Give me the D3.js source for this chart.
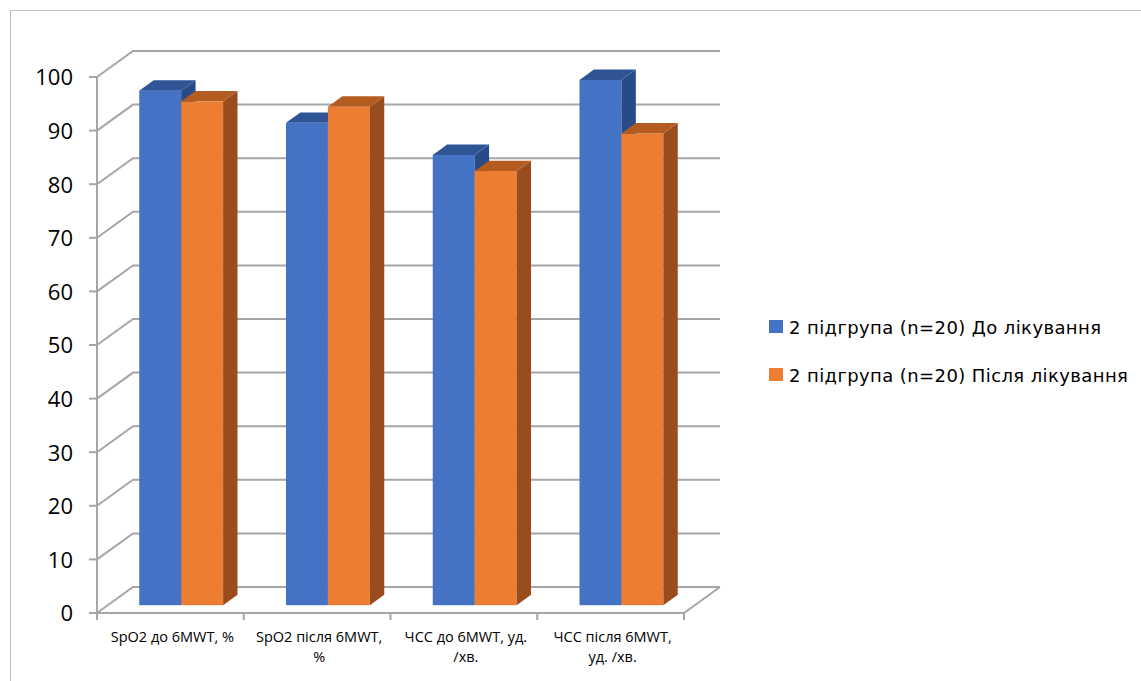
<!DOCTYPE html>
<html><head><meta charset="utf-8">
<script src="https://cdn.jsdelivr.net/npm/d3@7"></script>
<style>
html,body{margin:0;padding:0;background:#fff;}
svg{display:block;}
text{font-family:"Open Sans","Noto Sans",sans-serif;fill:#000;}
</style></head>
<body>
<svg id="chart" width="1141" height="681"></svg>
<script>
const categories = [
  ["SpO2 до 6MWT, %"],
  ["SpO2 після 6MWT,", "%"],
  ["ЧСС до 6MWT, уд.", "/хв."],
  ["ЧСС після 6MWT,", "уд. /хв."]
];
const seriesNames = ["2 підгрупа (n=20) До лікування", "2 підгрупа (n=20) Після лікування"];
const beforeValues = [96, 90, 84, 98];
const afterValues = [94, 93, 81, 88];
const yTicks = [0, 10, 20, 30, 40, 50, 60, 70, 80, 90, 100];

const colors = [
  {front:"#4472C4", top:"#2F5597", side:"#284A86"},
  {front:"#ED7D31", top:"#B45C20", side:"#9A4D1C"}
];

const svg = d3.select("#chart");
// chart frame
svg.append("path").attr("d","M10.5,681 L10.5,10.5 L1141,10.5")
  .attr("fill","none").attr("stroke","#bfbfbf").attr("stroke-width",1);

const y = d3.scaleLinear().domain([0,100]).range([613,77]);
const x0 = d3.scaleBand().domain(d3.range(categories.length)).range([97,684]).padding(0);
const x1 = d3.scaleBand().domain([0,1]).range([0,x0.bandwidth()]).paddingInner(0).paddingOuter(0.75);
const depth = {dx:36, dy:-26};
const z0 = 0.3, z1 = 0.7;
const P = (px,py,z)=>[px+depth.dx*z, py+depth.dy*z];

const grid = svg.append("g").attr("fill","none").attr("stroke","#a6a6a6").attr("stroke-width",2);
const xL = x0.range()[0], xR = x0.range()[1];
yTicks.forEach(t=>{
  const f = P(xL,y(t),0), b = P(xL,y(t),1), br = P(xR,y(t),1);
  grid.append("path").attr("d",`M${f[0]},${f[1]} L${b[0]},${b[1]} L${br[0]},${br[1]}`);
});
// floor
const f0 = P(xL,y(0),0), f1 = P(xR,y(0),0), f2 = P(xR,y(0),1);
grid.append("path").attr("d",`M${f0[0]},${f0[1]} L${f1[0]},${f1[1]} L${f2[0]},${f2[1]}`);
// vertical axis
grid.append("line").attr("x1",xL).attr("x2",xL).attr("y1",y(100)).attr("y2",y(0));
// y ticks
yTicks.forEach(t=>{
  grid.append("line").attr("x1",xL-8).attr("x2",xL).attr("y1",y(t)).attr("y2",y(t));
});
// category ticks
d3.range(categories.length+1).forEach(i=>{
  const xx = i<categories.length ? x0(i) : xR;
  grid.append("line").attr("x1",xx).attr("x2",xx).attr("y1",y(0)).attr("y2",y(0)+7);
});

// y labels
svg.append("g").selectAll("text").data(yTicks).join("text")
  .attr("x",73).attr("y",d=>y(d)).attr("dy","0.38em").attr("text-anchor","end")
  .style("font-size","22px").text(d=>d);

// bars
const bars = svg.append("g");
categories.forEach((c,i)=>{
  [beforeValues[i], afterValues[i]].forEach((v,s)=>{
    const xa = x0(i)+x1(s), xb = xa + x1.bandwidth();
    const col = colors[s];
    const fl = P(xa,y(v),z0), fr = P(xb,y(v),z0), bl0 = P(xa,y(0),z0), br0 = P(xb,y(0),z0);
    const tl = P(xa,y(v),z1), tr = P(xb,y(v),z1), sb = P(xb,y(0),z1);
    bars.append("rect").attr("x",fl[0]).attr("y",fl[1]).attr("width",xb-xa).attr("height",bl0[1]-fl[1]).attr("fill",col.front);
    bars.append("path").attr("d",`M${fr[0]},${fr[1]} L${tr[0]},${tr[1]} L${sb[0]},${sb[1]} L${br0[0]},${br0[1]}Z`).attr("fill",col.side);
    bars.append("path").attr("d",`M${fl[0]},${fl[1]} L${tl[0]},${tl[1]} L${tr[0]},${tr[1]} L${fr[0]},${fr[1]}Z`).attr("fill",col.top);
  });
});

// category labels
const cl = svg.append("g");
categories.forEach((lines,i)=>{
  const cx = x0(i)+x0.bandwidth()/2 + 2;
  lines.forEach((ln,k)=>cl.append("text").attr("x",cx).attr("y",642 + k*19.5)
    .attr("text-anchor","middle").style("font-size","14.5px").text(ln));
});

// legend
const lg = svg.append("g");
seriesNames.forEach((n,s)=>{
  const yy = 320 + s*48;
  lg.append("rect").attr("x",769).attr("y",yy).attr("width",14).attr("height",13).attr("fill",colors[s].front);
  lg.append("text").attr("x",789).attr("y",yy+13.5)
    .style("font-family","'DejaVu Sans',sans-serif").style("font-size","18px")
    .style("letter-spacing","0.4px").text(n);
});
</script>
</body></html>
